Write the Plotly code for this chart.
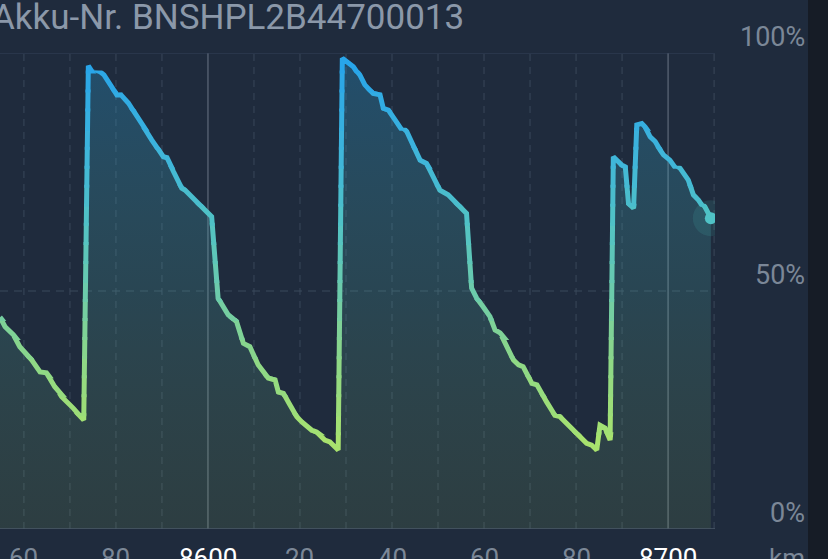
import numpy as np
import plotly.graph_objects as go

# ---------------- data ----------------
km = [8554.8, 8555.9, 8557.7, 8559.1, 8561.7, 8563.5, 8564.9, 8566.7, 8568.2, 8570.7,
      8573.0, 8574.0, 8575.2, 8576.5, 8577.4, 8578.7, 8580.2, 8581.1, 8582.7, 8584.1,
      8585.9, 8587.8, 8590.3, 8591.1, 8592.5, 8594.3, 8595.0, 8600.8, 8602.2, 8603.3,
      8604.4, 8606.2, 8607.7, 8609.1, 8610.9, 8613.1, 8614.6, 8615.3, 8616.4, 8617.8,
      8619.3, 8620.4, 8622.5, 8623.6, 8625.4, 8626.5, 8628.3, 8629.2, 8631.6, 8633.0,
      8634.1, 8635.9, 8637.4, 8638.1, 8639.2, 8640.7, 8643.2, 8646.1, 8647.5, 8650.4,
      8651.5, 8652.2, 8656.2, 8657.3, 8658.4, 8659.8, 8661.3, 8662.4, 8663.5, 8666.4,
      8667.5, 8668.5, 8670.4, 8671.5, 8673.6, 8674.3, 8675.4, 8676.5, 8682.3, 8683.4,
      8684.5, 8685.2, 8686.3, 8687.4, 8688.1, 8689.9, 8690.7, 8691.4, 8692.5, 8693.2,
      8694.3, 8695.0, 8696.1, 8697.2, 8698.3, 8699.0, 8700.4, 8702.6, 8704.4, 8705.5,
      8706.6, 8708.0, 8709.3]
soc = [44.5, 42.5, 40.8, 38.3, 35.5, 33.0, 32.8, 29.9, 27.8, 25.4,
       22.9, 97.3, 96.6, 96.1, 95.4, 93.5, 91.2, 91.2, 89.5, 87.4,
       84.5, 81.7, 78.2, 78.0, 75.1, 71.6, 71.2, 65.6, 48.5, 46.7,
       45.0, 43.6, 39.0, 38.3, 34.5, 31.7, 31.3, 28.8, 28.5, 26.1,
       23.6, 22.5, 20.8, 20.4, 18.7, 18.3, 16.6, 98.9, 97.1, 95.4,
       93.3, 91.5, 91.2, 88.4, 88.0, 85.9, 83.5, 77.5, 76.8, 71.2,
       70.4, 70.2, 66.3, 50.6, 48.5, 46.7, 44.6, 41.8, 41.2, 35.5,
       34.5, 34.1, 30.6, 30.3, 26.7, 25.7, 23.9, 23.6, 18.0, 17.6,
       16.6, 21.8, 21.2, 18.7, 78.2, 76.5, 76.1, 68.4, 67.4, 84.9,
       85.2, 84.5, 82.4, 81.4, 79.6, 78.6, 77.5, 75.8, 73.3, 70.2,
       69.1, 67.7, 65.3]

title_text = "Akku-Nr. BNSHPL2B44700013"
y_tick_vals = [0, 50, 100]
y_tick_text = ["0%", "50%", "100%"]
x_label_vals = [8560, 8580, 8600, 8620, 8640, 8660, 8680, 8700]
x_label_text = ["60", "80", "8600", "20", "40", "60", "80", "8700"]
unit_label = "km"

# ---------------- style ----------------
W, H = 828, 559
ML, MR, MT, MB = 0, 113, 53, 30
PW = W - ML - MR
PH = H - MT - MB
X_RANGE = [8554.8, 8710.2]
BG = "#1f2b3d"
NUM_FONT = "Roboto, sans-serif"

grad_stops = [(0, (200, 239, 90)), (15, (172, 228, 106)), (35, (143, 216, 134)),
              (50, (108, 203, 171)), (65, (80, 194, 198)), (80, (61, 180, 220)),
              (100, (38, 163, 234))]


def grad_color(v):
    ps = [p for p, _ in grad_stops]
    cs = np.array([c for _, c in grad_stops], dtype=float)
    rgb = [np.interp(v, ps, cs[:, k]) for k in range(3)]
    return "rgb(%d,%d,%d)" % tuple(int(round(c)) for c in rgb)


fig = go.Figure()

# gradient fill under the curve (main axis)
fig.add_trace(go.Scatter(
    x=km, y=soc, mode="none", fill="tozeroy", hoverinfo="skip",
    fillgradient=dict(type="vertical", start=0, stop=100,
                      colorscale=[[0, "rgba(168,228,107,0.10)"],
                                  [0.5, "rgba(90,200,190,0.17)"],
                                  [1, "rgba(41,168,232,0.28)"]]),
    xaxis="x", yaxis="y"))

# gradient line: the same series drawn in slightly overlapping horizontal bands,
# each band clipped to its own strip of the plot (same scale as the main y axis)
N = 25
EXT = 1.5 / PH
layout_axes = {}
for i in range(N):
    d0 = max(0.0, i / N - EXT)
    d1 = min(1.0, (i + 1) / N + EXT)
    ax = "yaxis%d" % (i + 2)
    layout_axes[ax] = dict(domain=[d0, d1], range=[d0 * 100, d1 * 100], anchor="x",
                           visible=False, fixedrange=True)
    fig.add_trace(go.Scatter(x=km, y=soc, mode="lines", hoverinfo="skip",
                             line=dict(color=grad_color(100 * (i + 0.5) / N), width=5),
                             xaxis="x", yaxis="y%d" % (i + 2)))

# end-point marker on a full-height axis drawn last
top_ax = N + 2
layout_axes["yaxis%d" % top_ax] = dict(domain=[0, 1], range=[0, 100], anchor="x",
                                       visible=False, fixedrange=True)
end_col = grad_color(soc[-1])
fig.add_trace(go.Scatter(x=[km[-1]], y=[soc[-1]], mode="markers", hoverinfo="skip",
                         marker=dict(size=36, color="rgba(80,200,190,0.13)", line=dict(width=0)),
                         xaxis="x", yaxis="y%d" % top_ax))
fig.add_trace(go.Scatter(x=[km[-1]], y=[soc[-1]], mode="markers", hoverinfo="skip",
                         marker=dict(size=12, color=end_col, line=dict(width=0)),
                         xaxis="x", yaxis="y%d" % top_ax))

shapes = []
# vertical grid lines every 10 km, solid every 100 km
for v in np.arange(8560, 8711, 10):
    major = (int(v) % 100 == 0)
    shapes.append(dict(type="line", xref="x", yref="paper", x0=v, x1=v, y0=0, y1=1,
                       layer="below",
                       line=dict(color="#6b7686" if major else "#39475a", width=1,
                                 dash="solid" if major else "7px,6px")))
# horizontal lines
shapes.append(dict(type="line", xref="paper", yref="y", x0=0, x1=1, y0=50, y1=50, layer="below",
                   line=dict(color="#3b4a5d", width=1, dash="8px,6px")))
shapes.append(dict(type="line", xref="paper", yref="y", x0=0, x1=1, y0=100, y1=100, layer="below",
                   line=dict(color="#34425a", width=1)))
shapes.append(dict(type="line", xref="paper", yref="y", x0=0, x1=1, y0=0, y1=0, layer="above",
                   line=dict(color="#4a5869", width=1.5)))
# dark strip at the right edge
shapes.append(dict(type="rect", xref="paper", yref="paper", x0=808 / PW, x1=840 / PW,
                   y0=-0.2, y1=1.2, line=dict(width=0), fillcolor="#161c26", layer="above"))

annotations = []
annotations.append(dict(text=title_text, xref="paper", yref="paper", x=-10 / PW, y=1 + (53 - 17) / PH,
                        xanchor="left", yanchor="middle", showarrow=False,
                        font=dict(family="Roboto, sans-serif", size=35, color="#8b98a9")))
for v, t in zip(y_tick_vals, y_tick_text):
    annotations.append(dict(text=t, xref="paper", yref="y", x=807 / PW, y=v,
                            xanchor="right", yanchor="bottom", showarrow=False, yshift=-2,
                            font=dict(family=NUM_FONT, size=27, color="#7b8797")))
for v, t in zip(x_label_vals, x_label_text):
    major = (v % 100 == 0)
    annotations.append(dict(text=t, xref="x", yref="paper", x=v, y=-(541 - 529) / PH,
                            xanchor="center", yanchor="top", showarrow=False,
                            font=dict(family=NUM_FONT, size=26,
                                      color="#ffffff" if major else "#7b8797")))
annotations.append(dict(text=unit_label, xref="paper", yref="paper", x=807 / PW, y=-(541 - 529) / PH,
                        xanchor="right", yanchor="top", showarrow=False,
                        font=dict(family=NUM_FONT, size=26, color="#7b8797")))

fig.update_layout(
    width=W, height=H,
    margin=dict(l=ML, r=MR, t=MT, b=MB, pad=0),
    paper_bgcolor=BG, plot_bgcolor="rgba(0,0,0,0)",
    showlegend=False,
    xaxis=dict(range=X_RANGE, showgrid=False, zeroline=False, showticklabels=False,
               ticks="", showline=False, fixedrange=True),
    yaxis=dict(domain=[0, 1], range=[0, 100], showgrid=False, zeroline=False,
               showticklabels=False, ticks="", fixedrange=True),
    shapes=shapes,
    annotations=annotations,
    **layout_axes,
)

fig.write_html("out.html", config={"displayModeBar": False},
               post_script="document.body.style.margin='0';")
